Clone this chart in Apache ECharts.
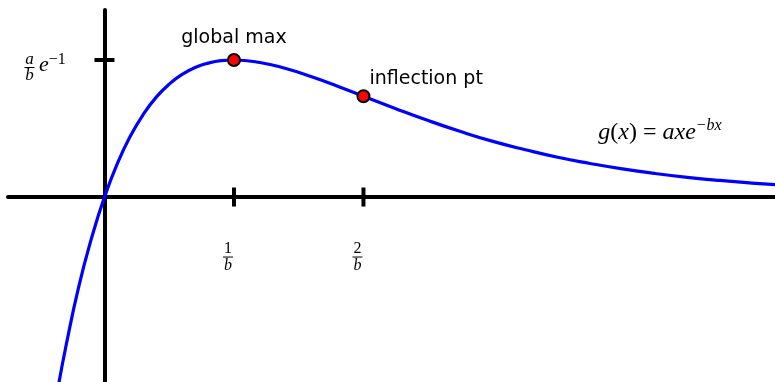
<!DOCTYPE html>
<html>
<head>
<meta charset="utf-8">
<script src="https://cdn.jsdelivr.net/npm/echarts@6/dist/echarts.min.js"></script>
<style>
html,body{margin:0;padding:0;background:#fff;}
#chart{width:775px;height:382px;}
</style>
</head>
<body>
<div id="chart"></div>
<script>
// x in units of 1/b, y in units of (a/b)e^-1
var curveX = [-0.36, -0.3, -0.2, -0.1, 0, 0.1, 0.2, 0.3, 0.4, 0.5, 0.6, 0.7, 0.8, 0.9, 1.0,
  1.2, 1.4, 1.6, 1.8, 2.0, 2.25, 2.5, 2.75, 3.0, 3.25, 3.5, 3.75, 4.0, 4.25, 4.5, 4.75, 5.0, 5.2];
var curveY = [-1.40, -1.10, -0.66, -0.30, 0, 0.246, 0.445, 0.604, 0.729, 0.824, 0.895, 0.945, 0.977, 0.995, 1.0,
  0.982, 0.938, 0.878, 0.809, 0.736, 0.645, 0.558, 0.478, 0.406, 0.345, 0.290, 0.245, 0.205, 0.172, 0.144, 0.121, 0.102, 0.090];

var pointX = [1, 2];
var pointY = [1, 0.736];
var pointNames = ['global max', 'inflection pt'];

var xTicks = [1, 2];
var xTickLabels = ['1', '2'];
var yTicks = [1];

var xMin = -0.745, xMax = 5.178, yMin = -1.35, yMax = 1.365;

var serif = '"Liberation Serif", "DejaVu Serif", serif';
var sans = '"DejaVu Sans", sans-serif';

var chart = echarts.init(document.getElementById('chart'));

var baseLabel = {color: '#000', opacity: 1, textBorderWidth: 0, textBorderColor: 'transparent', textShadowBlur: 0};

function lbl(extra) {
  var o = {};
  for (var k in baseLabel) o[k] = baseLabel[k];
  for (var k2 in extra) o[k2] = extra[k2];
  return o;
}

var fracRich = {
  n: {fontFamily: serif, fontSize: 16, lineHeight: 14, color: '#000', align: 'center'},
  bar: {width: 10, height: 1, backgroundColor: '#000', lineHeight: 3, align: 'center'},
  d: {fontFamily: serif, fontStyle: 'italic', fontSize: 16, lineHeight: 14, color: '#000', align: 'center'}
};

var option = {
  animation: false,
  backgroundColor: '#fff',
  grid: {left: 8, right: 0, top: 10, bottom: 0, containLabel: false},
  xAxis: {
    type: 'value', min: xMin, max: xMax,
    axisLine: {show: true, onZero: true, lineStyle: {color: '#000', width: 4}},
    axisTick: {show: false}, axisLabel: {show: false}, splitLine: {show: false}
  },
  yAxis: {
    type: 'value', min: yMin, max: yMax,
    axisLine: {show: true, onZero: true, lineStyle: {color: '#000', width: 4}},
    axisTick: {show: false}, axisLabel: {show: false}, splitLine: {show: false}
  },
  series: [
    {
      type: 'line', smooth: true, symbol: 'none', z: 3,
      lineStyle: {color: '#0000ff', width: 3.2},
      data: curveX.map(function (x, i) { return [x, curveY[i]]; })
    },
    {
      type: 'scatter', symbol: 'rect', symbolSize: [4, 19], z: 2, silent: true,
      itemStyle: {color: '#000', opacity: 1},
      data: xTicks.map(function (x, i) {
        return {
          value: [x, 0],
          label: lbl({
            show: true, position: 'inside', offset: [-6, 60],
            formatter: '{n|' + xTickLabels[i] + '}\n{bar|}\n{d|b}',
            rich: fracRich
          })
        };
      })
    },
    {
      type: 'scatter', symbol: 'rect', symbolSize: [20, 4], z: 2, silent: true,
      itemStyle: {color: '#000', opacity: 1},
      data: yTicks.map(function (y) {
        return {
          value: [0, y],
          label: lbl({
            show: true, position: 'inside', offset: [-75, 8],
            formatter: '{n|a}\n{bar|}\n{d|b}',
            rich: {
              n: {fontFamily: serif, fontStyle: 'italic', fontSize: 17, lineHeight: 13, color: '#000', align: 'center'},
              bar: {width: 10, height: 1, backgroundColor: '#000', lineHeight: 3, align: 'center'},
              d: {fontFamily: serif, fontStyle: 'italic', fontSize: 17, lineHeight: 14, color: '#000', align: 'center'}
            }
          })
        };
      })
    },
    {
      type: 'scatter', symbolSize: 0, z: 2, silent: true,
      itemStyle: {opacity: 1},
      data: yTicks.map(function (y) {
        return {
          value: [0, y],
          label: lbl({
            show: true, position: 'inside', offset: [-52, 4],
            formatter: '{e|e}{s|−1}',
            rich: {
              e: {fontFamily: serif, fontStyle: 'italic', fontSize: 22, color: '#000', verticalAlign: 'bottom', lineHeight: 24},
              s: {fontFamily: serif, fontSize: 16, color: '#000', verticalAlign: 'top', lineHeight: 24}
            }
          })
        };
      })
    },
    {
      type: 'scatter', symbol: 'circle', symbolSize: 12, z: 5,
      itemStyle: {color: '#ff0000', borderColor: '#000', borderWidth: 2, opacity: 1},
      data: pointX.map(function (x, i) {
        return {
          value: [x, pointY[i]],
          label: i === 0
            ? lbl({show: true, position: 'top', distance: 5, formatter: pointNames[i], fontFamily: sans, fontSize: 19})
            : lbl({show: true, position: 'right', distance: 0, offset: [-1, -17], formatter: pointNames[i], fontFamily: sans, fontSize: 19})
        };
      })
    },
    {
      type: 'scatter', symbolSize: 0, z: 2, silent: true,
      itemStyle: {opacity: 1},
      data: [{
        value: [4.29, 0.48],
        label: lbl({
          show: true, position: 'inside',
          formatter: '{i|g}{r|(}{i|x}{r|) = }{i|axe}{s|−bx}',
          rich: {
            i: {fontFamily: serif, fontStyle: 'italic', fontSize: 24, color: '#000', verticalAlign: 'bottom', lineHeight: 26},
            r: {fontFamily: serif, fontSize: 24, color: '#000', verticalAlign: 'bottom', lineHeight: 26},
            s: {fontFamily: serif, fontStyle: 'italic', fontSize: 16, color: '#000', verticalAlign: 'top', lineHeight: 26}
          }
        })
      }]
    }
  ]
};
chart.setOption(option);
</script>
</body>
</html>
